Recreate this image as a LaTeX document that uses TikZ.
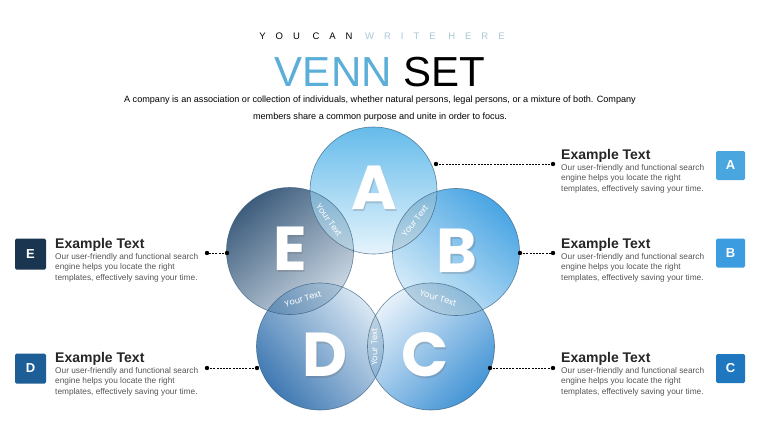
\documentclass[tikz,border=0pt]{standalone}
\usepackage{fontspec}
\setmainfont{Liberation Sans}
\newfontfamily\popfont{Poppins}
\definecolor{venn}{HTML}{5AAED8}
\definecolor{wh}{HTML}{A9C6D6}
\definecolor{bodygray}{HTML}{555555}
\definecolor{aDark}{HTML}{4FB2E8}\definecolor{aLight}{HTML}{E2F3FC}
\definecolor{bDark}{HTML}{2F98E0}\definecolor{bLight}{HTML}{D2EAF8}
\definecolor{cDark}{HTML}{2A86D0}\definecolor{cLight}{HTML}{E4F0FA}
\definecolor{dDark}{HTML}{2466A8}\definecolor{dLight}{HTML}{D4E4F2}
\definecolor{eDark}{HTML}{22466A}\definecolor{eLight}{HTML}{C5D3E1}
\definecolor{boxA}{HTML}{4AA6DF}\definecolor{boxB}{HTML}{3B9DE0}
\definecolor{boxC}{HTML}{1F78BF}\definecolor{boxD}{HTML}{1D5E96}
\definecolor{boxE}{HTML}{1A3550}
\definecolor{rim}{HTML}{2E5878}
\tikzset{
  head/.style={inner sep=0pt,font=\fontsize{14}{14}\selectfont\bfseries,text=black!85},
  bodytxt/.style={inner sep=0pt,align=left,text=bodygray,font=\fontsize{8.3}{10.4}\selectfont},
  conn/.style={black,line width=0.8pt,dash pattern=on 2pt off 1.2pt},
  dotc/.style={fill=black},
  bigl/.style={inner sep=0pt,text=white,font=\popfont\bfseries\fontsize{62}{62}\selectfont},
  bigsh/.style={inner sep=0pt,text=black!60,opacity=0.25,font=\popfont\bfseries\fontsize{62}{62}\selectfont},
  yt/.style={inner sep=0pt,text=white,font=\popfont\fontsize{8.4}{8.4}\selectfont},
  sqbox/.style={minimum width=29pt,minimum height=29pt,rounded corners=1.5pt,inner sep=0pt,text=white,font=\fontsize{13}{13}\selectfont\bfseries},
  lensfill/.style={fill=rim,fill opacity=0.18},
}
\begin{document}
\begin{tikzpicture}[x=1pt,y=-1pt]
\useasboundingbox (0,0) rectangle (760,428);
\fill[white] (0,0) rectangle (760,428);
% title
\node[inner sep=0pt,anchor=base] (kicker) at (382,39.5) {\fontsize{9.5}{9.5}\selectfont\addfontfeature{LetterSpace=105}YOU CAN \textcolor{wh}{WRITE HERE}};
\node[inner sep=0pt,anchor=base] (title) at (380,86) {\fontsize{42}{42}\selectfont\textcolor{venn}{VENN} SET};
\node[inner sep=0pt,anchor=north,align=center,font=\fontsize{9.1}{17}\selectfont] (sub) at (380,96) {A company is an association or collection of individuals, whether natural persons, legal persons, or a mixture of both. Company\\members share a common purpose and unite in order to focus.};
% circles
\def\R{63.5}
\coordinate (cA) at (373.5,190.5);
\coordinate (cB) at (456,252);
\coordinate (cC) at (431,346.5);
\coordinate (cD) at (320,346.5);
\coordinate (cE) at (290,251);
\shade[fill opacity=0.87,top color=eDark,bottom color=eLight,shading angle=40] (cE) circle (\R);
\shade[fill opacity=0.87,top color=dLight,bottom color=dDark,shading angle=-50] (cD) circle (\R);
\shade[fill opacity=0.87,top color=cLight,bottom color=cDark,shading angle=45] (cC) circle (\R);
\shade[fill opacity=0.87,top color=bDark,bottom color=bLight,shading angle=-40] (cB) circle (\R);
\shade[fill opacity=0.87,top color=aDark,bottom color=aLight,shading angle=0] (cA) circle (\R);
% lenses
\begin{scope}\clip (cA) circle (\R); \fill[lensfill] (cB) circle (\R); \end{scope}
\begin{scope}\clip (cB) circle (\R); \fill[lensfill] (cC) circle (\R); \end{scope}
\begin{scope}\clip (cC) circle (\R); \fill[lensfill] (cD) circle (\R); \end{scope}
\begin{scope}\clip (cD) circle (\R); \fill[lensfill] (cE) circle (\R); \end{scope}
\begin{scope}\clip (cE) circle (\R); \fill[lensfill] (cA) circle (\R); \end{scope}
\foreach \c in {cA,cB,cC,cD,cE} \draw[rim,line width=0.6pt,opacity=0.7] (\c) circle (\R);
% letters
\node[bigsh] (sA) at (375.5,190) {A}; \node[bigl] (lA) at (374,188) {A};
\node[bigsh] (sB) at (458.5,253) {B}; \node[bigl] (lB) at (457,251) {B};
\node[bigsh] (sC) at (426.5,357) {C}; \node[bigl] (lC) at (425,355) {C};
\node[bigsh] (sD) at (326.5,357) {D}; \node[bigl] (lD) at (325,355) {D};
\node[bigsh] (sE) at (291.5,251) {E}; \node[bigl] (lE) at (290,249) {E};
% lens labels
\node[yt,rotate=-54] (yAE) at (329,220) {Your Text};
\node[yt,rotate=53] (yAB) at (415,221) {Your Text};
\node[yt,rotate=-17] (yBC) at (438,298) {Your Text};
\node[yt,rotate=90] (yCD) at (374.5,347) {Your Text};
\node[yt,rotate=17] (yDE) at (303,299) {Your Text};
% connectors
\coordinate (pA1) at (436,164); \coordinate (pA2) at (553,164);
\coordinate (pB1) at (520,253); \coordinate (pB2) at (553,253);
\coordinate (pC1) at (490,368); \coordinate (pC2) at (553,368);
\coordinate (pE1) at (227,253); \coordinate (pE2) at (207,253);
\coordinate (pD1) at (257,368); \coordinate (pD2) at (207,368);
\foreach \a/\b in {pA1/pA2,pB1/pB2,pC1/pC2,pE1/pE2,pD1/pD2}{
  \draw[conn] (\a) -- (\b);
  \fill[dotc] (\a) circle (2.2); \fill[dotc] (\b) circle (2.2);
}
% text blocks right
\node[head,anchor=base west] (hA) at (561,159) {Example Text};
\node[bodytxt,anchor=north west] (tA) at (561,164) {Our user-friendly and functional search\\engine helps you locate the right\\templates, effectively saving your time.};
\node[head,anchor=base west] (hB) at (561,248) {Example Text};
\node[bodytxt,anchor=north west] (tB) at (561,253) {Our user-friendly and functional search\\engine helps you locate the right\\templates, effectively saving your time.};
\node[head,anchor=base west] (hC) at (561,362) {Example Text};
\node[bodytxt,anchor=north west] (tC) at (561,367) {Our user-friendly and functional search\\engine helps you locate the right\\templates, effectively saving your time.};
% text blocks left
\node[head,anchor=base west] (hE) at (55,248) {Example Text};
\node[bodytxt,anchor=north west] (tE) at (55,253) {Our user-friendly and functional search\\engine helps you locate the right\\templates, effectively saving your time.};
\node[head,anchor=base west] (hD) at (55,362) {Example Text};
\node[bodytxt,anchor=north west] (tD) at (55,367) {Our user-friendly and functional search\\engine helps you locate the right\\templates, effectively saving your time.};
% boxes
\node[sqbox,fill=boxA] (bA) at (730.5,165.5) {A};
\node[sqbox,fill=boxB] (bB) at (730.5,253) {B};
\node[sqbox,fill=boxC] (bC) at (730.5,368.5) {C};
\node[sqbox,fill=boxE,minimum width=31pt,minimum height=31pt] (bE) at (30.5,254) {E};
\node[sqbox,fill=boxD,minimum width=31pt,minimum height=30pt] (bD) at (30.5,368.5) {D};
\end{tikzpicture}
\end{document}
